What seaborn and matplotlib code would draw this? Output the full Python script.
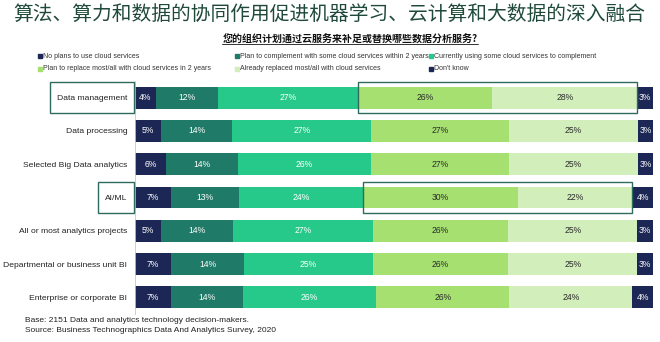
import numpy as np
import pandas as pd
import matplotlib
matplotlib.use("Agg")
import matplotlib.pyplot as plt
import seaborn as sns
from matplotlib.lines import Line2D
from matplotlib.patches import Rectangle

categories = ["Data management", "Data processing", "Selected Big Data analytics", "AI/ML",
              "All or most analytics projects", "Departmental or business unit BI",
              "Enterprise or corporate BI"]
series_names = ["No plans to use cloud services",
                "Plan to complement with some cloud services within 2 years",
                "Currently using some cloud services to complement",
                "Plan to replace most/all with cloud services in 2 years",
                "Already replaced most/all with cloud services",
                "Don't know"]
no_plans      = [4, 5, 6, 7, 5, 7, 7]
plan_compl    = [12, 14, 14, 13, 14, 14, 14]
currently     = [27, 27, 26, 24, 27, 25, 26]
plan_replace  = [26, 27, 27, 30, 26, 26, 26]
already       = [28, 25, 25, 22, 25, 25, 24]
dont_know     = [3, 3, 3, 4, 3, 3, 4]
colors = ["#1c2755", "#1f7a68", "#27c98a", "#a5e070", "#d2eebb", "#1c2755"]
text_colors = ["white", "white", "white", "#2a2a2a", "#2a2a2a", "white"]
highlight = ["Data management", "AI/ML"]

title = "算法、算力和数据的协同作用促进机器学习、云计算和大数据的深入融合"
subtitle = "您的组织计划通过云服务来补足或替换哪些数据分析服务?"
footer = ["Base: 2151 Data and analytics technology decision-makers.",
          "Source: Business Technographics Data And Analytics Survey, 2020"]

sns.set_theme(style="white")
plt.rcParams['font.family'] = ['Liberation Sans', 'Noto Sans CJK SC', 'DejaVu Sans']

W, H = 660, 342
vals = np.array([no_plans, plan_compl, currently, plan_replace, already, dont_know], dtype=float)
totals = vals.sum(axis=0)
frac = vals / totals * 100
cum = np.cumsum(frac, axis=0)

df = pd.DataFrame({"category": categories})
for i in range(6):
    df[f"c{i}"] = cum[i]

fig = plt.figure(figsize=(W / 100, H / 100), dpi=100)
ax = fig.add_axes([135 / W, 1 - 314 / H, 518 / W, 233 / H])

for i in reversed(range(6)):
    sns.barplot(data=df, y="category", x=f"c{i}", color=colors[i], orient="h",
                width=0.66, errorbar=None, linewidth=0, ax=ax, saturation=1)

for r in range(len(categories)):
    for i in range(6):
        start = cum[i][r] - frac[i][r]
        ax.text(start + frac[i][r] / 2, r, f"{int(vals[i][r])}%", ha="center", va="center",
                fontsize=6.2, color=text_colors[i])

ax.set_xlim(0, 100)
ax.set_ylim(6.5, -0.5)
ax.set_xlabel("")
ax.set_ylabel("")
ax.set_xticks([])
ax.tick_params(axis="y", labelsize=6.1, length=0, pad=5.5, colors="#222222")
for s in ["top", "right", "bottom"]:
    ax.spines[s].set_visible(False)
ax.spines["left"].set_color("#c8c8c8")
ax.spines["left"].set_linewidth(0.6)

# highlight boxes
box_color = "#2f6b5c"
for name in highlight:
    r = categories.index(name)
    x0 = cum[2][r]
    x1 = cum[4][r]
    ax.add_patch(Rectangle((x0, r - 0.48), x1 - x0, 0.94, fill=False, edgecolor=box_color,
                           linewidth=1.0, zorder=5))

fig.canvas.draw()
renderer = fig.canvas.get_renderer()
for lbl in ax.get_yticklabels():
    if lbl.get_text() in highlight:
        bb = lbl.get_window_extent(renderer)
        r = categories.index(lbl.get_text())
        y_top = ax.transData.transform((0, r - 0.48))[1]
        y_bot = ax.transData.transform((0, r + 0.46))[1]
        x_right = ax.transAxes.transform((0, 0))[0] - 1
        x_left = bb.x0 - 7
        fig.add_artist(Rectangle((x_left / W, y_bot / H), (x_right - x_left) / W,
                                 (y_top - y_bot) / H, fill=False, edgecolor=box_color,
                                 linewidth=1.0, transform=fig.transFigure))

# title & subtitle
fig.text(13 / W, 1 - 14 / H, title, fontsize=14.2, color="#1f4a3a", va="center", ha="left",
         family=["Noto Sans CJK SC"])
st = fig.text(350 / W, 1 - 40 / H, subtitle, fontsize=7.2, fontweight="bold", color="#111111",
              va="center", ha="center", family=["Noto Sans CJK SC", "DejaVu Sans"])
fig.canvas.draw()
bb = st.get_window_extent(fig.canvas.get_renderer())
fig.add_artist(Line2D([bb.x0 / W, bb.x1 / W], [(bb.y0 + 1) / H] * 2, color="#111111",
                      linewidth=0.6, transform=fig.transFigure))

# legend: row-major, manual column positions
col_x = [40, 237, 431]
row_y = [56, 69]
for k, name in enumerate(series_names):
    rr, cc = divmod(k, 3)
    x, y = col_x[cc], row_y[rr]
    fig.add_artist(Line2D([x / W], [1 - y / H], marker="s", markersize=2.2, linestyle="none",
                          color=colors[k], transform=fig.transFigure))
    fig.text((x + 3.5) / W, 1 - y / H, name, fontsize=5.0, color="#333333",
             va="center", ha="left")

fig.text(25 / W, 1 - 320 / H, footer[0], fontsize=6, color="#222222", va="center")
fig.text(25 / W, 1 - 331 / H, footer[1], fontsize=6, color="#222222", va="center")

fig.savefig("out.png", dpi=100)
